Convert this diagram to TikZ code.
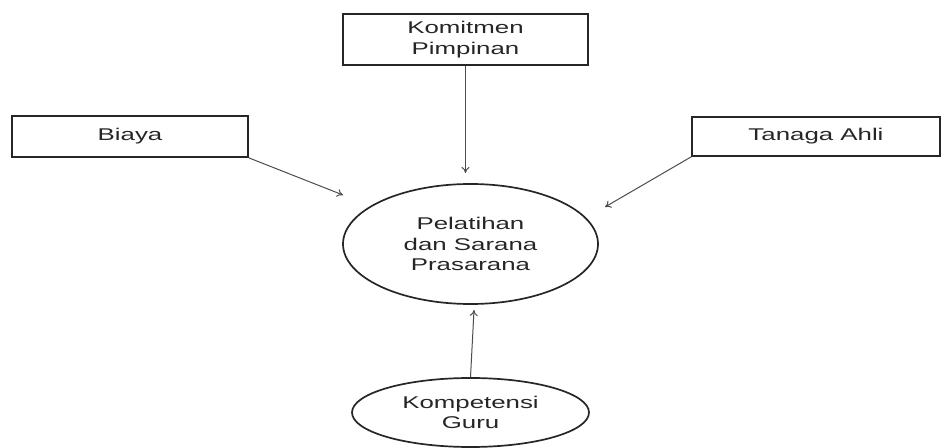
\documentclass[tikz,border=0pt]{standalone}
\usepackage{fontspec}
\setmainfont{Liberation Sans}
\usetikzlibrary{arrows.meta,shapes.geometric}
\newcommand{\wide}[1]{\scalebox{1.52}[1]{#1}}
\begin{document}
\begin{tikzpicture}[x=1bp,y=-1bp,
  boxnode/.style={draw=black!85,line width=1.8bp,rectangle,inner sep=0pt,
    font=\fontsize{17bp}{21bp}\selectfont,text=black!85,align=center},
  ellnode/.style={draw=black!85,line width=1.7bp,ellipse,inner sep=0pt,
    font=\fontsize{17bp}{20.5bp}\selectfont,text=black!85,align=center},
  arr/.style={draw=black!70,line width=1bp,-{To[length=6bp,width=8bp]}}]
\useasboundingbox (0,0) rectangle (943,448);
\node[boxnode,minimum width=245bp,minimum height=51bp] (komit) at (465.5,39.5)
  {\wide{Komitmen}\\\wide{Pimpinan}};
\node[boxnode,minimum width=236bp,minimum height=41bp] (biaya) at (130,136.5)
  {\wide{Biaya}};
\node[boxnode,minimum width=248bp,minimum height=39bp] (tanaga) at (816,136.5)
  {\wide{Tanaga Ahli}};
\node[ellnode,minimum width=255bp,minimum height=120bp] (pel) at (470.5,244)
  {\wide{Pelatihan}\\\wide{dan Sarana}\\\wide{Prasarana}};
\node[ellnode,minimum width=237bp,minimum height=69bp] (komp) at (470.5,412.5)
  {\wide{Kompetensi}\\\wide{Guru}};
\coordinate (t1) at (343,195);
\coordinate (t2) at (605,207);
\coordinate (t3) at (465.5,173);
\coordinate (t4) at (474,310);
\draw[arr] (biaya.south east) -- (t1);
\draw[arr] (tanaga.south west) -- (t2);
\draw[arr] (komit.south) -- (t3);
\draw[arr] (komp.north) -- (t4);
\end{tikzpicture}
\end{document}
